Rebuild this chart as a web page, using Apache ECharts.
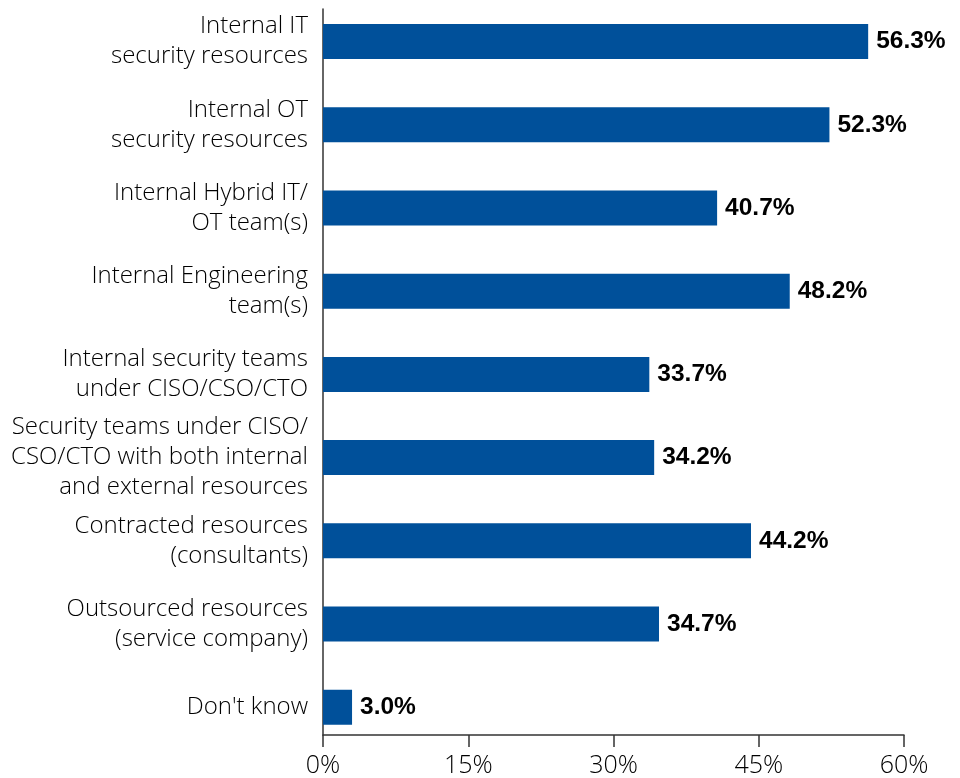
<!DOCTYPE html>
<html>
<head>
<meta charset="utf-8">
<script src="https://cdn.jsdelivr.net/npm/echarts@6/dist/echarts.min.js"></script>
<style>
  html, body { margin: 0; padding: 0; background: #fff; }
  #chart { width: 960px; height: 778px; }
</style>
</head>
<body>
<div id="chart"></div>
<script>
// Resource types, top to bottom
const categories = [
  'Internal IT\nsecurity resources',
  'Internal OT\nsecurity resources',
  'Internal Hybrid IT/\nOT team(s)',
  'Internal Engineering\nteam(s)',
  'Internal security teams\nunder CISO/CSO/CTO',
  'Security teams under CISO/\nCSO/CTO with both internal\nand external resources',
  'Contracted resources\n(consultants)',
  'Outsourced resources\n(service company)',
  "Don't know"
];

// Share of respondents (%)
const values = [56.3, 52.3, 40.7, 48.2, 33.7, 34.2, 44.2, 34.7, 3.0];

// Value axis range and step (%)
const axisMin = 0;
const axisMax = 60;
const axisStep = 15;

const textFont = '"Open Sans", "Liberation Sans", sans-serif';
const barColor = '#00509a';
const inkColor = '#000000';
const lineColor = '#333333';

const chart = echarts.init(document.getElementById('chart'), null, { renderer: 'canvas' });

chart.setOption({
  animation: false,
  backgroundColor: '#ffffff',
  grid: [
    // bar area: category bands
    { left: 323, right: 56, top: -3.3, bottom: 29.2, containLabel: false },
    // frame area: visible axis lines, ticks and tick labels
    { left: 323, right: 56, top: 9, bottom: 41, containLabel: false }
  ],
  xAxis: [
    {
      gridIndex: 0, type: 'value', min: axisMin, max: axisMax, interval: axisStep,
      show: false
    },
    {
      gridIndex: 1, type: 'value', min: axisMin, max: axisMax, interval: axisStep,
      axisLine: { show: true, lineStyle: { color: lineColor, width: 1.5 } },
      axisTick: { show: true, inside: false, length: 12, lineStyle: { color: lineColor, width: 1.5 } },
      splitLine: { show: false },
      axisLabel: {
        formatter: '{value}%', margin: 18,
        fontFamily: textFont, fontWeight: 300, fontSize: 25, color: inkColor
      }
    }
  ],
  yAxis: [
    {
      gridIndex: 0, type: 'category', data: categories, inverse: true,
      axisLine: { show: false }, axisTick: { show: false },
      axisLabel: {
        margin: 15, align: 'right',
        fontFamily: textFont, fontWeight: 300, fontSize: 24, lineHeight: 30, color: inkColor
      }
    },
    {
      gridIndex: 1, type: 'value', min: 0, max: 1,
      axisLine: { show: true, lineStyle: { color: lineColor, width: 1.5 } },
      axisTick: { show: false }, axisLabel: { show: false }, splitLine: { show: false }
    }
  ],
  series: [
    {
      type: 'bar',
      xAxisIndex: 0, yAxisIndex: 0,
      data: values,
      barWidth: 35,
      itemStyle: { color: barColor },
      label: {
        show: true, position: 'right', distance: 8,
        formatter: p => p.value.toFixed(1) + '%',
        fontFamily: '"Liberation Sans", Arial, sans-serif',
        fontWeight: 'bold', fontSize: 24.5, color: '#000'
      }
    }
  ]
});
</script>
</body>
</html>
